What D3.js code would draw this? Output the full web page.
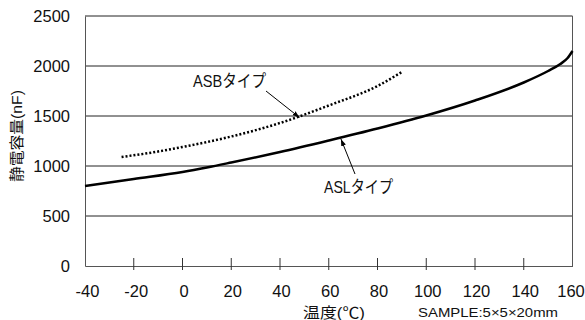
<!DOCTYPE html>
<html><head><meta charset="utf-8">
<script src="https://cdn.jsdelivr.net/npm/d3@7"></script>
<style>body{margin:0;background:#fff}svg{display:block}text{font-family:"Liberation Sans","Noto Sans CJK JP",sans-serif}</style>
</head><body><svg id="c" width="585" height="320"></svg>
<script>
const xTicks = [-40,-20,0,20,40,60,80,100,120,140,160];
const yTicks = [0,500,1000,1500,2000,2500];
const aslTemp = [-40,-20,0,10,20,40,60,80,100,120,140,150,155,158,160];
const aslCap  = [800,870,940,985,1035,1140,1255,1375,1505,1655,1835,1950,2020,2080,2150];
const asbTemp = [-25,-10,0,20,40,60,80,90];
const asbCap  = [1090,1145,1190,1295,1430,1605,1800,1940];
const labels = {asb:"ASBタイプ", asl:"ASLタイプ", y:"静電容量(nF)", x:"温度(℃)", sample:"SAMPLE:5×5×20mm"};

const svg = d3.select("#c");
const m = {l:85, r:572.5, t:16, b:266};
const x = d3.scaleLinear().domain([-40,160]).range([m.l,m.r]);
const y = d3.scaleLinear().domain([0,2500]).range([m.b,m.t]);
const fmt = d => String(d);

svg.append("defs").append("marker").attr("id","ah").attr("viewBox","0 0 10 10")
  .attr("refX",10).attr("refY",5).attr("markerWidth",7).attr("markerHeight",7)
  .attr("orient","auto").append("path").attr("d","M0,1.5L10,5L0,8.5Z").attr("fill","#000");

// gridlines
svg.append("g").selectAll("line").data(yTicks.filter(d=>d>0)).join("line")
  .attr("x1",m.l).attr("x2",m.r).attr("y1",d=>y(d)).attr("y2",d=>y(d))
  .attr("stroke","#222").attr("stroke-width",1);
// right border
svg.append("line").attr("x1",m.r).attr("x2",m.r).attr("y1",m.t).attr("y2",m.b).attr("stroke","#555").attr("stroke-width",1);

// axes
const xa = svg.append("g").attr("transform",`translate(0,${m.b})`)
  .call(d3.axisBottom(x).tickValues(xTicks).tickSize(0).tickPadding(19).tickFormat(fmt));
xa.select(".domain").attr("stroke","#555");
xa.selectAll(".tick text").attr("font-size",16.5).attr("fill","#111")
  .attr("dx",d=>d===160?"-2":d<0?"2":"1");
svg.append("g").selectAll("line").data(xTicks.slice(1,-1)).join("line")
  .attr("x1",d=>x(d)).attr("x2",d=>x(d)).attr("y1",m.b-8).attr("y2",m.b+4)
  .attr("stroke","#333").attr("stroke-width",1);

const ya = svg.append("g").attr("transform",`translate(${m.l},0)`)
  .call(d3.axisLeft(y).tickValues(yTicks).tickSize(0).tickPadding(15).tickFormat(fmt));
ya.select(".domain").attr("stroke","#555");
ya.selectAll(".tick text").attr("font-size",16.5).attr("fill","#111");

// curves
const line = d3.line().x(d=>x(d[0])).y(d=>y(d[1])).curve(d3.curveMonotoneX);
svg.append("path").datum(aslTemp.map((t,i)=>[t,aslCap[i]])).attr("d",line)
  .attr("fill","none").attr("stroke","#000").attr("stroke-width",2.5);
svg.append("path").datum(asbTemp.map((t,i)=>[t,asbCap[i]])).attr("d",line)
  .attr("fill","none").attr("stroke","#000").attr("stroke-width",2.5).attr("stroke-dasharray","2,2");

// annotations
svg.append("text").attr("x",193).attr("y",87).attr("font-size",17).attr("fill","#111")
  .attr("textLength",73).attr("lengthAdjust","spacingAndGlyphs").text(labels.asb);
svg.append("line").attr("x1",266).attr("y1",91).attr("x2",x(48)).attr("y2",y(1485))
  .attr("stroke","#000").attr("stroke-width",1).attr("marker-end","url(#ah)");
svg.append("text").attr("x",324).attr("y",193).attr("font-size",17).attr("fill","#111")
  .attr("textLength",69).attr("lengthAdjust","spacingAndGlyphs").text(labels.asl);
svg.append("line").attr("x1",355).attr("y1",174).attr("x2",x(65)).attr("y2",y(1270))
  .attr("stroke","#000").attr("stroke-width",1).attr("marker-end","url(#ah)");

// titles
svg.append("text").attr("transform","translate(22,136) rotate(-90)").attr("text-anchor","middle")
  .attr("font-size",15).attr("fill","#111").attr("textLength",92).attr("lengthAdjust","spacingAndGlyphs").text(labels.y);
svg.append("text").attr("x",334).attr("y",318).attr("text-anchor","middle").attr("font-size",15).attr("fill","#111")
  .attr("textLength",62).attr("lengthAdjust","spacingAndGlyphs").text(labels.x);
svg.append("text").attr("x",418).attr("y",317).attr("font-size",13).attr("fill","#111")
  .attr("textLength",140).attr("lengthAdjust","spacingAndGlyphs").text(labels.sample);
</script></body></html>
